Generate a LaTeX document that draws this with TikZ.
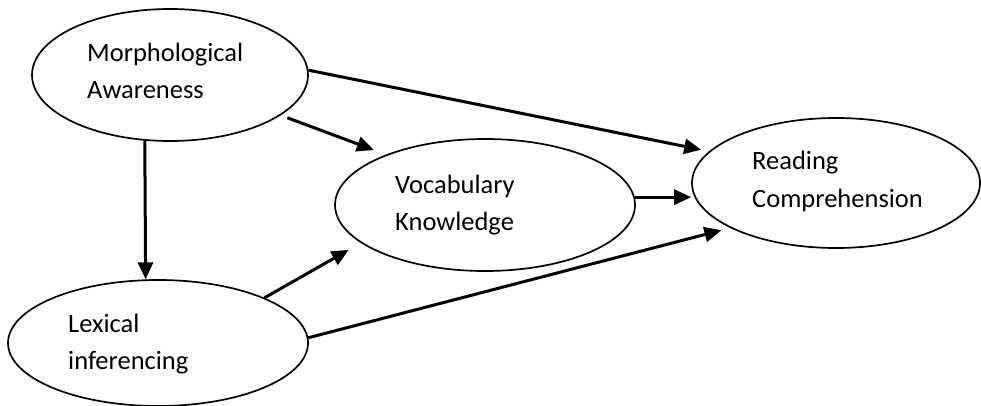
\documentclass[tikz,border=0pt]{standalone}
\usepackage{fontspec}
\setmainfont{Carlito}
\usetikzlibrary{shapes.geometric,arrows.meta}
\begin{document}
\begin{tikzpicture}[x=1pt,y=-1pt,
  oval/.style={draw,ellipse,line width=1.7pt,inner sep=0pt},
  lbl/.style={anchor=base west,inner sep=0pt,font=\fontsize{26.5}{37}\selectfont},
  conn/.style={line width=3pt,-{Triangle[length=17pt,width=15pt]}}]
\useasboundingbox (0,0) rectangle (981,406);
\fill[white] (0,0) rectangle (981,406);
\clip (0,0) rectangle (981,406);
\node[oval,minimum width=276pt,minimum height=132pt] (ma) at (170,75) {};
\node[oval,minimum width=300pt,minimum height=126pt] (li) at (158,343) {};
\node[oval,minimum width=300pt,minimum height=132pt] (vk) at (485,205) {};
\node[oval,minimum width=288pt,minimum height=130pt] (rc) at (836,183) {};
\node[lbl] (ma1) at (87,62) {Morphological};
\node[lbl] (ma2) at (87,99) {Awareness};
\node[lbl] (li1) at (68,332) {Lexical};
\node[lbl] (li2) at (68,369) {inferencing};
\node[lbl] (vk1) at (395,193) {Vocabulary};
\node[lbl] (vk2) at (395,230) {Knowledge};
\node[lbl] (rc1) at (752,170) {Reading};
\node[lbl] (rc2) at (752,207) {Comprehension};
\draw[conn,shorten >=8pt] (ma.2) -- (rc.166);
\draw[conn,shorten <=7pt,shorten >=13pt] (ma.-20.5) -- (vk.153.8);
\draw[conn] (ma.-111) -- (li.101.7);
\draw[conn,shorten >=14pt] (li.23) -- (vk.197.7);
\draw[conn] (vk.3) -- (vk.3 -| rc.west);
\draw[conn,shorten >=9pt] (li.2) -- (rc.203.6);
\end{tikzpicture}
\end{document}
